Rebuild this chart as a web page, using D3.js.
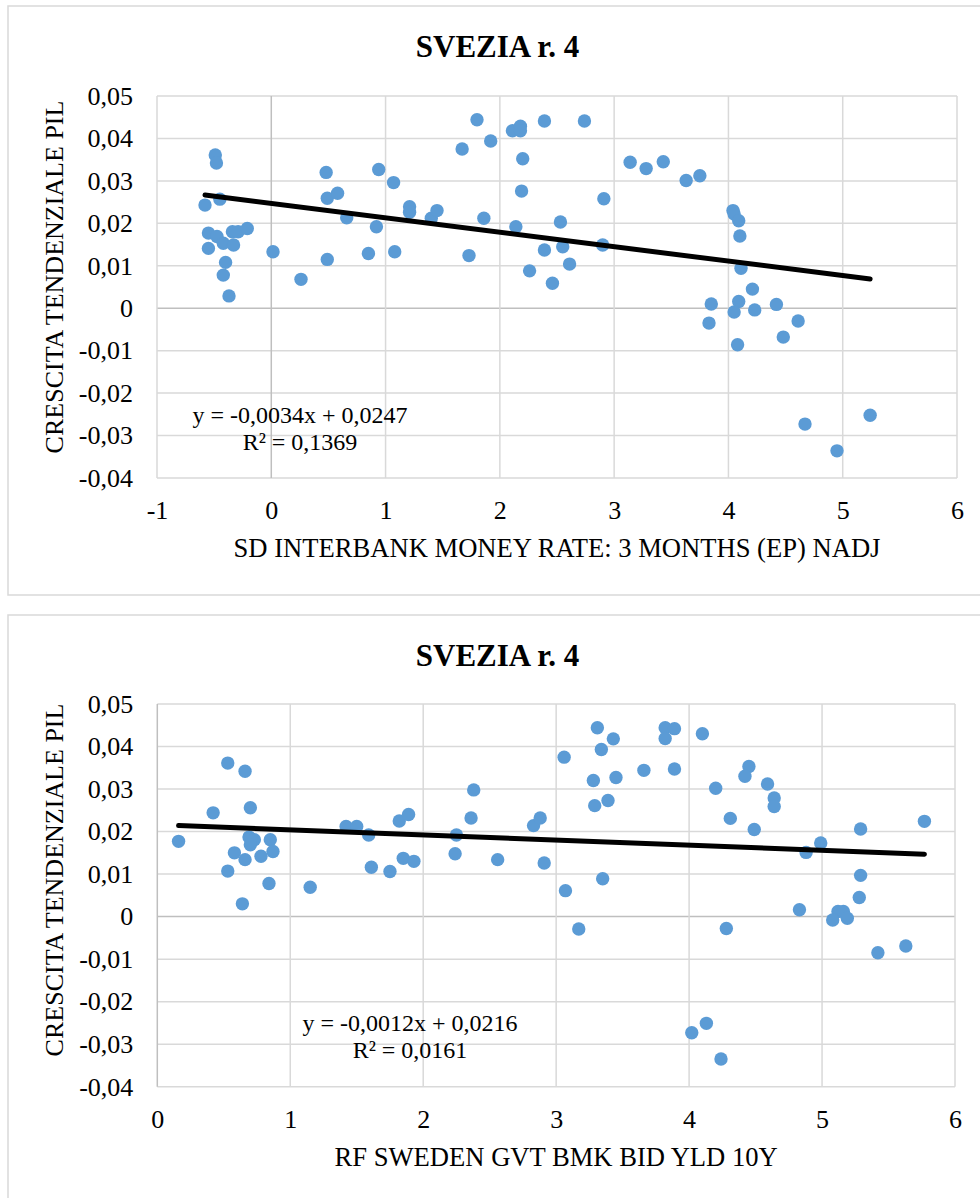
<!DOCTYPE html>
<html>
<head>
<meta charset="utf-8">
<script src="https://cdn.jsdelivr.net/npm/d3@7"></script>
<style>
  html, body { margin: 0; padding: 0; background: #fff; }
  svg { display: block; }
  text { font-family: "Liberation Serif", "Times New Roman", serif; fill: #000; }
</style>
</head>
<body>
<svg id="chart" width="980" height="1198"></svg>
<script>
// ---------- DATA ----------
const chartTitle = "SVEZIA r. 4";
const yAxisTitle = "CRESCITA TENDENZIALE PIL";
const yTicks = [-0.04, -0.03, -0.02, -0.01, 0, 0.01, 0.02, 0.03, 0.04, 0.05];

// Chart 1: interbank 3M rate vs GDP trend growth
const xTitle1 = "SD INTERBANK MONEY RATE: 3 MONTHS (EP) NADJ";
const xTicks1 = [-1, 0, 1, 2, 3, 4, 5, 6];
const x1 = [-0.49, -0.48, -0.45, -0.58, -0.55, -0.475, -0.42, -0.33, -0.55, -0.34, -0.29, -0.21, -0.40, -0.42, -0.37,
  0.015, 0.26, 0.48, 0.49, 0.58, 0.66, 0.49, 0.94, 1.07, 1.21, 1.21, 0.92, 0.85, 1.08, 1.40, 1.45,
  1.67, 1.80, 1.92, 2.11, 2.18, 2.18, 2.39, 2.74, 2.20, 2.19, 2.91, 1.86, 1.73, 2.14, 2.53, 2.39, 2.55, 2.90, 2.61, 2.26, 2.46,
  3.14, 3.28, 3.43, 3.63, 3.75, 4.04, 4.05, 4.09, 4.10, 4.11, 4.21, 3.85, 4.09, 4.05, 4.23, 4.42, 3.83, 4.61, 4.48, 4.08,
  4.67, 5.24, 4.95];
const y1 = [0.0361, 0.0342, 0.0257, 0.0243, 0.0177, 0.0169, 0.0153, 0.0149, 0.0141, 0.0180, 0.0180, 0.0188, 0.0108, 0.0078, 0.0029,
  0.0133, 0.0068, 0.0320, 0.0259, 0.0271, 0.0213, 0.0115, 0.0327, 0.0296, 0.0239, 0.0226, 0.0192, 0.0129, 0.0133, 0.0212, 0.0230,
  0.0375, 0.0444, 0.0394, 0.0418, 0.0429, 0.0418, 0.0441, 0.0441, 0.0352, 0.0276, 0.0258, 0.0212, 0.0124, 0.0192, 0.0203, 0.0137, 0.0145, 0.0149, 0.0104, 0.0088, 0.0059,
  0.0344, 0.0329, 0.0345, 0.0301, 0.0312, 0.0230, 0.0222, 0.0206, 0.0170, 0.0094, 0.0045, 0.0010, 0.0016, -0.0009, -0.0004, 0.0009, -0.0035, -0.0030, -0.0068, -0.0086,
  -0.0273, -0.0252, -0.0336];
const trendSlope1 = -0.0034, trendIntercept1 = 0.0247;
const eqText1 = ["y = -0,0034x + 0,0247", "R² = 0,1369"];

// Chart 2: Swedish 10Y government bond yield vs GDP trend growth
const xTitle2 = "RF SWEDEN GVT BMK BID YLD 10Y";
const xTicks2 = [0, 1, 2, 3, 4, 5, 6];
const x2 = [0.16, 0.53, 0.66, 0.42, 0.70, 0.69, 0.73, 0.70, 0.85, 0.58, 0.87, 0.66, 0.78, 0.53, 0.84, 0.64,
  1.15, 1.42, 1.50, 1.59, 1.61, 1.75, 1.82, 1.89, 1.85, 1.93, 2.25, 2.24, 2.36, 2.38, 2.56, 2.83, 2.88, 2.91,
  3.06, 3.07, 3.17, 3.31, 3.43, 3.34, 3.28, 3.45, 3.29, 3.39, 3.35, 3.66, 3.82, 3.89, 3.82, 3.89,
  4.10, 4.20, 4.31, 4.45, 4.42, 4.49, 4.28, 4.59, 4.64, 4.64, 4.88, 4.99, 5.29, 5.77, 5.29, 5.28,
  4.83, 5.12, 5.16, 5.08, 5.19, 5.42, 5.63, 4.02, 4.13, 4.24];
const y2 = [0.0177, 0.0361, 0.0342, 0.0244, 0.0256, 0.0187, 0.0181, 0.0169, 0.0181, 0.0150, 0.0153, 0.0134, 0.0142, 0.0107, 0.0078, 0.0030,
  0.0069, 0.0212, 0.0212, 0.0192, 0.0116, 0.0106, 0.0225, 0.0240, 0.0137, 0.0130, 0.0192, 0.0148, 0.0232, 0.0298, 0.0134, 0.0214, 0.0232, 0.0126,
  0.0375, 0.0061, -0.0029, 0.0444, 0.0418, 0.0393, 0.0320, 0.0327, 0.0261, 0.0273, 0.0089, 0.0344, 0.0444, 0.0442, 0.0419, 0.0347,
  0.0430, 0.0302, 0.0231, 0.0353, 0.0330, 0.0205, -0.0028, 0.0312, 0.0279, 0.0259, 0.0151, 0.0173, 0.0206, 0.0224, 0.0097, 0.0045,
  0.0016, 0.0012, 0.0012, -0.0008, -0.0004, -0.0085, -0.0069, -0.0273, -0.0251, -0.0335];
const trendSlope2 = -0.0012, trendIntercept2 = 0.0216;
const eqText2 = ["y = -0,0012x + 0,0216", "R² = 0,0161"];

// ---------- DRAW ----------
const svg = d3.select("#chart");
const fmtY = d => d === 0 ? "0" : d3.format(".2f")(d).replace(".", ",").replace("−", "-");
const fmtX = d => String(d);

function drawChart(cfg) {
  const g = svg.append("g");
  // outer box
  g.append("rect")
    .attr("x", 8).attr("y", cfg.boxTop)
    .attr("width", 990).attr("height", cfg.boxH)
    .attr("fill", "#fff").attr("stroke", "#D9D9D9").attr("stroke-width", 1.5);

  const x = d3.scaleLinear().domain(cfg.xDomain).range([cfg.left, cfg.right]);
  const y = d3.scaleLinear().domain([-0.04, 0.05]).range([cfg.bottom, cfg.top]);

  // gridlines
  g.append("g").selectAll("line.h").data(yTicks).join("line")
    .attr("x1", cfg.left).attr("x2", cfg.right)
    .attr("y1", d => y(d)).attr("y2", d => y(d))
    .attr("stroke", d => d === 0 ? "#BFBFBF" : "#D9D9D9").attr("stroke-width", 1.5);
  g.append("g").selectAll("line.v").data(cfg.xTicks).join("line")
    .attr("y1", cfg.top).attr("y2", cfg.bottom)
    .attr("x1", d => x(d)).attr("x2", d => x(d))
    .attr("stroke", d => d === 0 ? "#BFBFBF" : "#D9D9D9").attr("stroke-width", 1.5);

  // axes (labels only)
  const yAx = g.append("g").attr("transform", `translate(${cfg.left},0)`)
    .call(d3.axisLeft(y).tickValues(yTicks).tickFormat(fmtY).tickSize(0).tickPadding(24));
  const xAx = g.append("g").attr("transform", `translate(0,${cfg.bottom})`)
    .call(d3.axisBottom(x).tickValues(cfg.xTicks).tickFormat(fmtX).tickSize(0).tickPadding(23));
  [yAx, xAx].forEach(a => {
    a.select(".domain").remove();
    a.selectAll("text").attr("font-size", 26).attr("fill", "#000")
      .attr("font-family", '"Liberation Serif", "Times New Roman", serif');
  });

  // points
  g.append("g").selectAll("circle").data(cfg.xs.map((v, i) => [v, cfg.ys[i]])).join("circle")
    .attr("cx", d => x(d[0])).attr("cy", d => y(d[1])).attr("r", 6.7)
    .attr("fill", "#5B9BD5");

  // trendline
  const xr = d3.extent(cfg.xs);
  const line = d3.line().x(d => x(d)).y(d => y(cfg.slope * d + cfg.intercept));
  g.append("path").attr("d", line(xr)).attr("fill", "none")
    .attr("stroke", "#000").attr("stroke-width", 5).attr("stroke-linecap", "round");

  // equation
  cfg.eq.forEach((t, i) => {
    g.append("text").attr("x", cfg.eqX).attr("y", cfg.eqY + i * 27)
      .attr("text-anchor", "middle").attr("font-size", 24).text(t);
  });

  // titles
  g.append("text").attr("x", 497.5).attr("y", cfg.boxTop + 51)
    .attr("text-anchor", "middle").attr("font-size", 31).attr("font-weight", "bold").text(chartTitle);
  g.append("text").attr("x", (cfg.left + cfg.right) / 2).attr("y", cfg.bottom + 79)
    .attr("text-anchor", "middle").attr("font-size", 26.6).text(cfg.xTitle);
  g.append("text").attr("transform", `translate(63,${cfg.yTitleY}) rotate(-90)`)
    .attr("text-anchor", "middle").attr("font-size", 26).text(yAxisTitle);
}

drawChart({
  boxTop: 6, boxH: 589,
  left: 157, right: 957, top: 96, bottom: 478,
  xDomain: [-1, 6], xTicks: xTicks1, xs: x1, ys: y1,
  slope: trendSlope1, intercept: trendIntercept1,
  eq: eqText1, eqX: 300, eqY: 423,
  xTitle: xTitle1, yTitleY: 277
});
drawChart({
  boxTop: 615, boxH: 600,
  left: 157.3, right: 955, top: 704, bottom: 1086.7,
  xDomain: [0, 6], xTicks: xTicks2, xs: x2, ys: y2,
  slope: trendSlope2, intercept: trendIntercept2,
  eq: eqText2, eqX: 410, eqY: 1031,
  xTitle: xTitle2, yTitleY: 880
});
</script>
</body>
</html>
